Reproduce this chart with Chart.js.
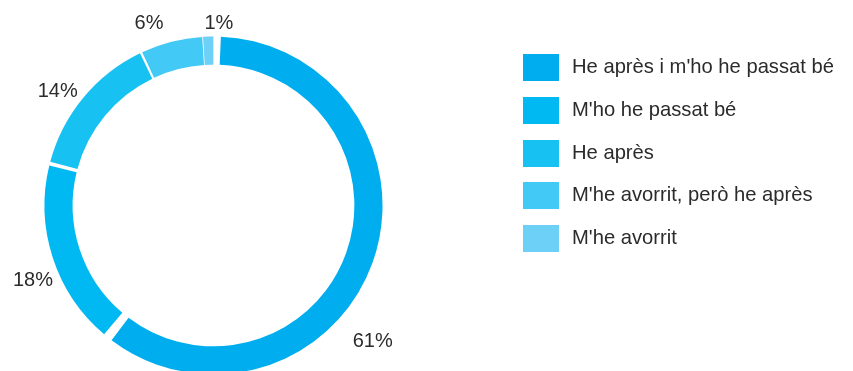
<!DOCTYPE html>
<html lang="ca">
<head>
    <meta charset="UTF-8">
    <title>Valoració de l'activitat</title>
    <script src="https://cdn.jsdelivr.net/npm/chart.js@4.4.1/dist/chart.umd.min.js"></script>
    <style>
        html, body {
            margin: 0;
            padding: 0;
            background: #ffffff;
            overflow: hidden;
        }
        body {
            position: relative;
            width: 853px;
            height: 371px;
            font-family: "Liberation Sans", Arial, Helvetica, sans-serif;
        }
        #chartWrap {
            position: absolute;
            left: 0;
            top: 0;
            width: 853px;
            height: 380px;
        }
        #legend {
            position: absolute;
            left: 523px;
            top: 54px;
            margin: 0;
            padding: 0;
            list-style: none;
        }
        #legend li {
            display: flex;
            align-items: center;
            height: 27px;
            margin-bottom: 15.75px;
            font-size: 20.2px;
            color: #2b2b2b;
            white-space: nowrap;
        }
        #legend .box {
            flex: none;
            width: 36px;
            height: 27px;
            margin-right: 13px;
        }
        #legend .txt {
            position: relative;
            top: -1px;
        }
    </style>
</head>
<body>
<div id="chartWrap"><canvas id="valoracioChart"></canvas></div>
<ul id="legend"></ul>

<script>
    // respostes (percentatge)
    var categories = [
        "He après i m'ho he passat bé",
        "M'ho he passat bé",
        "He après",
        "M'he avorrit, però he après",
        "M'he avorrit"
    ];
    var values = [61, 18, 14, 6, 1];
    var colors = ['#00aeef', '#00b9f2', '#17c2f3', '#43c9f5', '#6dd0f6'];

    // desplaçament de cada etiqueta: graus respecte al centre del tros i px fora de l'anell
    var labelPlace = [
        { turn: 20.4, out: 43 },
        { turn: -4.2, out: 29.5 },
        { turn: -3.2, out: 28 },
        { turn: -5, out: 28.5 },
        { turn: 3.5, out: 18 }
    ];

    // llegenda
    var legendHtml = '';
    categories.forEach(function(name, i) {
        legendHtml += '<li><span class="box" style="background:' + colors[i] + '"></span>' +
            '<span class="txt">' + name + '</span></li>';
    });
    document.getElementById('legend').innerHTML = legendHtml;

    // percentatges al voltant de l'anell
    var pctLabels = {
        id: 'pctLabels',
        afterDatasetsDraw: function(chart) {
            var ctx = chart.ctx;
            var meta = chart.getDatasetMeta(0);
            ctx.save();
            ctx.font = '20px "Liberation Sans", Arial, sans-serif';
            ctx.fillStyle = '#2b2b2b';
            ctx.textAlign = 'center';
            ctx.textBaseline = 'middle';
            meta.data.forEach(function(arc, i) {
                var p = arc.getProps(['x', 'y', 'startAngle', 'endAngle', 'outerRadius'], true);
                var a = (p.startAngle + p.endAngle) / 2 + labelPlace[i].turn * Math.PI / 180;
                var r = p.outerRadius + labelPlace[i].out;
                ctx.fillText(values[i] + '%', p.x + Math.cos(a) * r, p.y + Math.sin(a) * r + 1);
            });
            ctx.restore();
        }
    };

    new Chart(document.getElementById('valoracioChart'), {
        type: 'doughnut',
        data: {
            labels: categories,
            datasets: [{
                data: values,
                backgroundColor: colors,
                borderWidth: 0,
                spacing: 7,
                hoverOffset: 0
            }]
        },
        options: {
            responsive: true,
            maintainAspectRatio: false,
            animation: false,
            cutout: '83%',
            layout: {
                padding: { left: 44.5, right: 470.5, top: 36.5, bottom: 5.5 }
            },
            plugins: {
                legend: { display: false },
                tooltip: { enabled: false }
            }
        },
        plugins: [pctLabels]
    });
</script>
</body>
</html>
